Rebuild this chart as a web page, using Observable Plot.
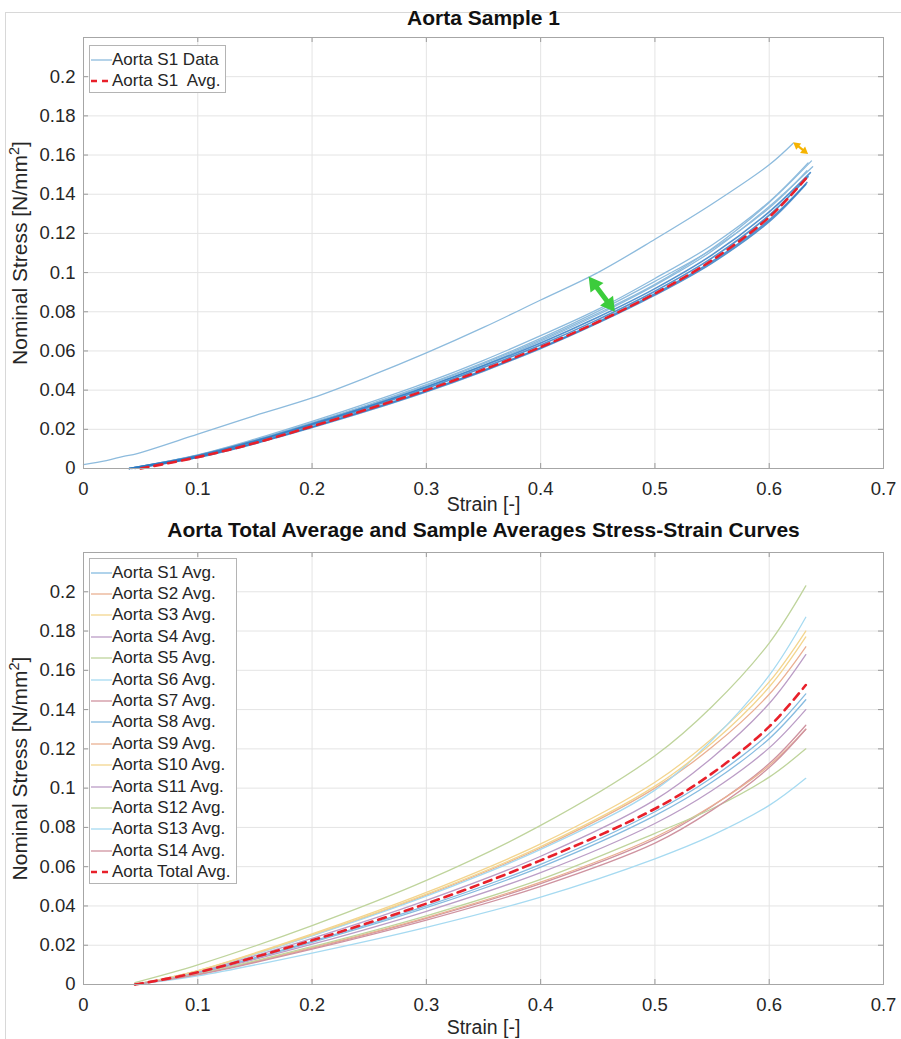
<!DOCTYPE html>
<html><head><meta charset="utf-8">
<script src="https://cdn.jsdelivr.net/npm/d3@7"></script>
<script src="https://cdn.jsdelivr.net/npm/@observablehq/plot@0.6"></script>
<style>
body{margin:0;background:#fff;font-family:"Liberation Sans",Arial,sans-serif;}
#wrap{position:relative;width:901px;height:1039px;overflow:hidden;background:#fff;}
#border{position:absolute;left:5px;top:12px;right:-2px;bottom:-2px;border-left:1px solid #d8d8d8;border-top:1px solid #d8d8d8;}
.panel{position:absolute;left:0;}
.legend{position:absolute;background:#fff;border:1px solid #b4b4b4;font-size:17px;color:#262626;box-sizing:border-box;padding-top:3px;}
.row{display:flex;align-items:center;height:21.4px;white-space:pre;}
.row svg{flex:none;}
</style></head><body>
<div id="wrap">
  <div id="border"></div>
  <div id="top" class="panel" style="top:0"></div>
  <div id="bot" class="panel" style="top:520px"></div>
</div>
<script>
// ---------- axes ----------
const xTicks = [0, 0.1, 0.2, 0.3, 0.4, 0.5, 0.6, 0.7];
const yTicks = [0, 0.02, 0.04, 0.06, 0.08, 0.1, 0.12, 0.14, 0.16, 0.18, 0.2];
const xDomain = [0, 0.7];
const yDomain = [0, 0.22];
const xLabel = "Strain [-]";
const yLabel = "Nominal Stress [N/mm2]";
const topTitle = "Aorta Sample 1";
const botTitle = "Aorta Total Average and Sample Averages Stress-Strain Curves";

// ---------- top panel: Aorta sample 1 ----------
const s1OutlierStrain = [0, 0.02, 0.035, 0.047, 0.1, 0.15, 0.2, 0.25, 0.3, 0.35, 0.4, 0.45, 0.5, 0.55, 0.6, 0.621];
const s1OutlierStress = [0.002, 0.004, 0.0062, 0.0076, 0.0175, 0.027, 0.036, 0.047, 0.059, 0.072, 0.086, 0.1, 0.117, 0.135, 0.155, 0.166];

const s1Grid = [0.1, 0.15, 0.2, 0.25, 0.3, 0.35, 0.4, 0.45, 0.5, 0.55, 0.6];
const s1CycleStart = [0.04, 0.042, 0.045, 0.04, 0.04, 0.04, 0.04, 0.04];
const s1CycleEnd = [0.634, 0.633, 0.632, 0.636, 0.633, 0.634, 0.637, 0.638];
const s1CycleEndStress = [0.149, 0.146, 0.145, 0.151, 0.152, 0.156, 0.157, 0.154];
const s1CycleStress = [
  [0.0062, 0.0137, 0.0222, 0.0312, 0.0408, 0.0515, 0.063, 0.076, 0.0905, 0.1075, 0.1293],
  [0.0058, 0.013, 0.0213, 0.0302, 0.0397, 0.0502, 0.0617, 0.0748, 0.0892, 0.1057, 0.1269],
  [0.0056, 0.0127, 0.0209, 0.0297, 0.0392, 0.0497, 0.0612, 0.0742, 0.0885, 0.1049, 0.126],
  [0.0066, 0.0142, 0.0228, 0.0319, 0.0416, 0.0524, 0.0641, 0.0772, 0.0918, 0.109, 0.131],
  [0.0068, 0.0146, 0.0234, 0.0328, 0.0428, 0.054, 0.0664, 0.0802, 0.0955, 0.1119, 0.133],
  [0.007, 0.015, 0.024, 0.0336, 0.0438, 0.0552, 0.0678, 0.0812, 0.097, 0.1141, 0.1362],
  [0.0067, 0.0144, 0.0231, 0.0324, 0.0424, 0.0535, 0.0657, 0.0792, 0.094, 0.1123, 0.1358],
  [0.0065, 0.014, 0.0226, 0.0318, 0.0418, 0.0528, 0.065, 0.0785, 0.0935, 0.111, 0.1337]
];
const s1AvgStrain = [0.05, 0.1, 0.15, 0.2, 0.25, 0.3, 0.35, 0.4, 0.45, 0.5, 0.55, 0.6, 0.632];
const s1AvgStress = [0, 0.0058, 0.013, 0.0215, 0.0305, 0.04, 0.0505, 0.062, 0.0748, 0.0893, 0.1063, 0.1283, 0.148];

// annotation arrows [x1, y1, x2, y2]
const greenArrow = [0.442, 0.098, 0.465, 0.080];
const orangeArrow = [0.621, 0.1665, 0.634, 0.1605];

// ---------- bottom panel: sample averages ----------
const sampleNames = ["Aorta S1 Avg.", "Aorta S2 Avg.", "Aorta S3 Avg.", "Aorta S4 Avg.", "Aorta S5 Avg.", "Aorta S6 Avg.", "Aorta S7 Avg.",
  "Aorta S8 Avg.", "Aorta S9 Avg.", "Aorta S10 Avg.", "Aorta S11 Avg.", "Aorta S12 Avg.", "Aorta S13 Avg.", "Aorta S14 Avg."];
const totalName = "Aorta Total Avg.";
const bGrid = [0.045, 0.1, 0.2, 0.3, 0.4, 0.5, 0.55, 0.6, 0.632];
const sampleStress = [
  [0, 0.0061, 0.022, 0.040, 0.0612, 0.088, 0.1054, 0.1278, 0.148],
  [0, 0.0069, 0.025, 0.0455, 0.0695, 0.100, 0.1209, 0.1478, 0.172],
  [0, 0.0071, 0.0258, 0.0469, 0.0716, 0.103, 0.1253, 0.1541, 0.180],
  [0, 0.0065, 0.0235, 0.0428, 0.0653, 0.094, 0.1155, 0.1431, 0.168],
  [0.001, 0.010, 0.030, 0.053, 0.081, 0.1165, 0.1416, 0.1739, 0.203],
  [0, 0.0068, 0.0248, 0.045, 0.0688, 0.099, 0.1245, 0.1574, 0.187],
  [0, 0.0051, 0.0185, 0.0337, 0.0514, 0.074, 0.0908, 0.1125, 0.132],
  [0, 0.0059, 0.0215, 0.0391, 0.0598, 0.086, 0.1031, 0.1252, 0.145],
  [0, 0.0052, 0.0188, 0.0341, 0.0521, 0.075, 0.091, 0.1115, 0.130],
  [0, 0.007, 0.0253, 0.046, 0.0702, 0.101, 0.123, 0.1515, 0.177],
  [0, 0.0057, 0.0205, 0.0373, 0.057, 0.082, 0.0988, 0.1205, 0.140],
  [0, 0.0053, 0.0193, 0.035, 0.0535, 0.077, 0.0895, 0.1056, 0.120],
  [0, 0.0044, 0.016, 0.0291, 0.0445, 0.064, 0.0759, 0.0912, 0.105],
  [0, 0.005, 0.018, 0.0328, 0.050, 0.072, 0.0888, 0.1105, 0.130]
];
const totalStress = [0, 0.0062, 0.0225, 0.0412, 0.0632, 0.0895, 0.1075, 0.1313, 0.1525];

// MATLAB default colour order, lightened
const palette = ["#86bbe0", "#eab092", "#f3d58f", "#bb9dc6", "#bfd49c", "#a6daf1", "#cf93a0"];

// ---------- helpers ----------
const W = 901, ML = 83, MR = 18;
const fmt = d => d === 0 ? "0" : String(+d.toFixed(2));
const font = "'Liberation Sans', Arial, sans-serif";

function frameMarks(innerW, innerH) {
  const tx = 5 * (xDomain[1] - xDomain[0]) / innerW;
  const ty = 5 * (yDomain[1] - yDomain[0]) / innerH;
  return [
    Plot.gridX(xTicks, {stroke: "#e4e4e4", strokeOpacity: 1}),
    Plot.gridY(yTicks, {stroke: "#e4e4e4", strokeOpacity: 1}),
    Plot.ruleX(xTicks, {x: d => d, y1: yDomain[0], y2: yDomain[0] + ty, stroke: "#9a9a9a"}),
    Plot.ruleX(xTicks, {x: d => d, y1: yDomain[1] - ty, y2: yDomain[1], stroke: "#9a9a9a"}),
    Plot.ruleY(yTicks, {y: d => d, x1: xDomain[0], x2: xDomain[0] + tx, stroke: "#9a9a9a"}),
    Plot.ruleY(yTicks, {y: d => d, x1: xDomain[1] - tx, x2: xDomain[1], stroke: "#9a9a9a"}),
    Plot.axisX(xTicks, {tickSize: 0, tickPadding: 13, tickFormat: fmt, label: null, fontSize: 18.5}),
    Plot.axisY(yTicks, {tickSize: 0, tickPadding: 8, tickFormat: fmt, label: null, fontSize: 18.5})
  ];
}

function labelMarks(title, titleDy, xDy) {
  return [
    Plot.text([title], {text: d => d, frameAnchor: "top", lineAnchor: "middle", dy: titleDy, fontWeight: "bold", fontSize: 21, fill: "#111"}),
    Plot.text([xLabel], {text: d => d, frameAnchor: "bottom", lineAnchor: "middle", dy: xDy, fontSize: 19.5}),
    Plot.text([yLabel], {text: d => d, frameAnchor: "left", textAnchor: "middle", lineAnchor: "middle", dx: -63, rotate: -90, fontSize: 21})
  ];
}

function fixSuper(svg) {
  d3.select(svg).selectAll("text").filter(function() { return this.textContent === yLabel; })
    .each(function() {
      const t = d3.select(this);
      t.text("");
      t.append("tspan").text("Nominal Stress [N/mm");
      t.append("tspan").attr("baseline-shift", "super").attr("font-size", "14.5px").text("2");
      t.append("tspan").text("]");
    });
}

function arrowMarks(a, innerW, innerH, color, width, r) {
  const kx = innerW / (xDomain[1] - xDomain[0]);
  const ky = innerH / (yDomain[1] - yDomain[0]);
  const [x1, y1, x2, y2] = a;
  const dxp = (x2 - x1) * kx, dyp = -(y2 - y1) * ky;
  const len = Math.hypot(dxp, dyp);
  const ux = dxp / len, uy = dyp / len;
  const tip = 2 * Math.sqrt(Math.PI * r * r / (3 * Math.sqrt(3)));
  const heads = [
    {x: x2 - ux * tip / kx, y: y2 + uy * tip / ky, rot: Math.atan2(ux, -uy) * 180 / Math.PI},
    {x: x1 + ux * tip / kx, y: y1 - uy * tip / ky, rot: Math.atan2(-ux, uy) * 180 / Math.PI}
  ];
  return [
    Plot.link([{x1: heads[1].x, y1: heads[1].y, x2: heads[0].x, y2: heads[0].y}], {x1: "x1", y1: "y1", x2: "x2", y2: "y2", stroke: color, strokeWidth: width}),
    Plot.dot(heads, {x: "x", y: "y", rotate: "rot", symbol: "triangle", r, fill: color, stroke: "none"})
  ];
}

// ---------- top plot ----------
{
  const H = 520, MT = 37, MB = 52;
  const iw = W - ML - MR, ih = H - MT - MB;
  const outlier = s1OutlierStrain.map((x, i) => ({x, y: s1OutlierStress[i]}));
  const cycles = s1CycleStress.map((row, k) => [
    {x: s1CycleStart[k], y: 0, k},
    ...row.map((y, i) => ({x: s1Grid[i], y, k})),
    {x: s1CycleEnd[k], y: s1CycleEndStress[k], k}
  ]);
  const avg = s1AvgStrain.map((x, i) => ({x, y: s1AvgStress[i]}));
  const light = cycles.slice(4).flat();
  const band = cycles.slice(0, 4).flat();
  const svg = Plot.plot({
    width: W, height: H, marginLeft: ML, marginRight: MR, marginTop: MT, marginBottom: MB,
    x: {domain: xDomain}, y: {domain: yDomain},
    style: {fontFamily: font, fontSize: "18.5px", color: "#262626", background: "transparent", overflow: "visible"},
    marks: [
      ...frameMarks(iw, ih),
      Plot.line(outlier, {x: "x", y: "y", stroke: "#8dbbdd", strokeWidth: 1.3, curve: "catmull-rom"}),
      Plot.line(light, {x: "x", y: "y", z: "k", stroke: "#8dbbdd", strokeWidth: 1.3, curve: "catmull-rom"}),
      Plot.line(band, {x: "x", y: "y", z: "k", stroke: "#2a78c2", strokeWidth: 1.6, strokeOpacity: 0.8, curve: "catmull-rom"}),
      Plot.line(avg, {x: "x", y: "y", stroke: "#e8202a", strokeWidth: 2.6, strokeDasharray: "8,6", curve: "catmull-rom"}),
      ...arrowMarks(greenArrow, iw, ih, "#3ccc3c", 5, 6),
      ...arrowMarks(orangeArrow, iw, ih, "#f5b300", 2.2, 3),
      Plot.frame({stroke: "#a6a6a6"}),
      ...labelMarks(topTitle, -19, 36)
    ]
  });
  fixSuper(svg);
  document.getElementById("top").appendChild(svg);
}

// ---------- bottom plot ----------
{
  const H = 519, MT = 32, MB = 55;
  const iw = W - ML - MR, ih = H - MT - MB;
  const rows = sampleStress.flatMap((arr, k) => arr.map((y, i) => ({x: bGrid[i], y, k})));
  const total = totalStress.map((y, i) => ({x: bGrid[i], y}));
  const svg = Plot.plot({
    width: W, height: H, marginLeft: ML, marginRight: MR, marginTop: MT, marginBottom: MB,
    x: {domain: xDomain}, y: {domain: yDomain},
    style: {fontFamily: font, fontSize: "18.5px", color: "#262626", background: "transparent", overflow: "visible"},
    marks: [
      ...frameMarks(iw, ih),
      Plot.line(rows, {x: "x", y: "y", z: "k", stroke: d => palette[d.k % 7], strokeWidth: 1.3, curve: "catmull-rom"}),
      Plot.line(total, {x: "x", y: "y", stroke: "#e8202a", strokeWidth: 2.6, strokeDasharray: "8,6", curve: "catmull-rom"}),
      Plot.frame({stroke: "#a6a6a6"}),
      ...labelMarks(botTitle, -22, 43)
    ]
  });
  fixSuper(svg);
  document.getElementById("bot").appendChild(svg);
}

// ---------- legends ----------
function legend(items, left, top, width) {
  const div = document.createElement("div");
  div.className = "legend";
  div.style.left = left + "px";
  div.style.top = top + "px";
  div.style.width = width + "px";
  for (const it of items) {
    const row = document.createElement("div");
    row.className = "row";
    const dash = it.dash ? `stroke-dasharray="6,5"` : "";
    row.innerHTML = `<svg width="22" height="10"><line x1="1" y1="5" x2="22" y2="5" stroke="${it.color}" stroke-width="${it.w}" ${dash}/></svg><span>${it.label}</span>`;
    div.appendChild(row);
  }
  document.getElementById("wrap").appendChild(div);
}
legend([
  {label: "Aorta S1 Data", color: "#8dbbdd", w: 1.3},
  {label: "Aorta S1  Avg.", color: "#e8202a", w: 2.6, dash: true}
], 89, 45, 137);
legend([
  ...sampleNames.map((n, k) => ({label: n, color: palette[k % 7], w: 1.3})),
  {label: totalName, color: "#e8202a", w: 2.6, dash: true}
], 89, 558, 148);
</script>
</body></html>
